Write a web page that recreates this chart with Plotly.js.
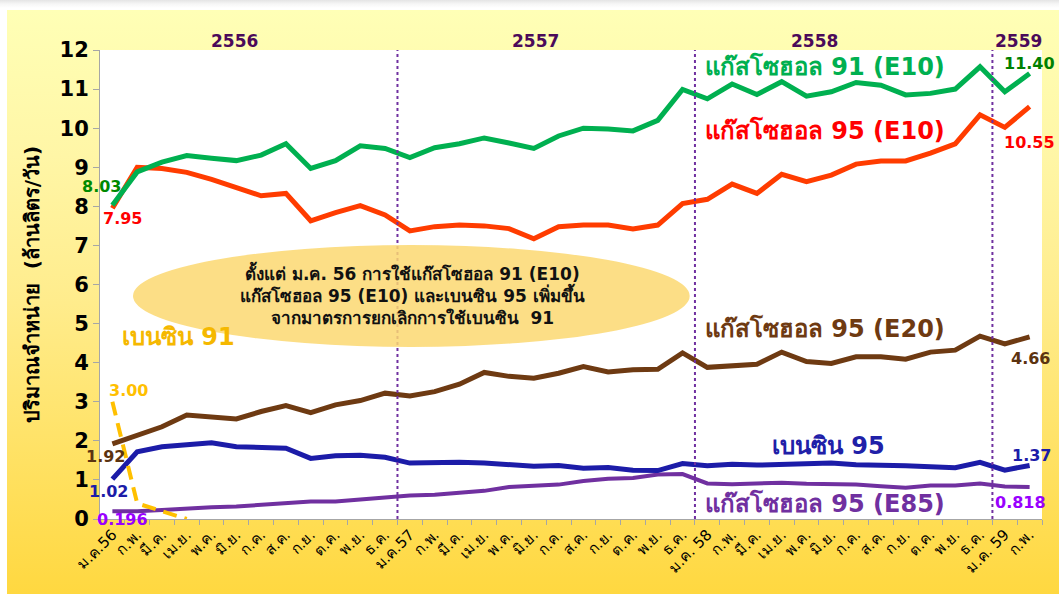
<!DOCTYPE html>
<html>
<head>
<meta charset="utf-8">
<script src="https://cdn.plot.ly/plotly-3.0.1.min.js"></script>
<style>
  html, body { margin:0; padding:0; background:#ffffff; }
  #wrap { position:relative; width:1059px; height:594px; overflow:hidden; }
  #topshade { position:absolute; left:0; top:0; width:1059px; height:8px;
    background:linear-gradient(to bottom, #e4e4e4 0%, #f6f6f6 50%, #ffffff 100%); }
  #bg { position:absolute; left:7px; top:10px; width:1052px; height:584px;
    background:linear-gradient(to bottom, #FFFFB6 0%, #FFF6A6 25%, #FFEC8C 50%, #FFE266 75%, #FFD840 100%); }
  #chart { position:absolute; left:0; top:0; width:1059px; height:594px; }
</style>
</head>
<body>
<div id="wrap">
  <div id="topshade"></div>
  <div id="bg"></div>
  <div id="chart"></div>
</div>
<script>
// Month tick labels (Jan 2013 .. Feb 2016, Thai Buddhist years)
const months = [
  "ม.ค.56","ก.พ.","มี.ค.","เม.ย.","พ.ค.","มิ.ย.","ก.ค.","ส.ค.","ก.ย.","ต.ค.","พ.ย.","ธ.ค.",
  "ม.ค.57","ก.พ.","มี.ค.","เม.ย.","พ.ค.","มิ.ย.","ก.ค.","ส.ค.","ก.ย.","ต.ค.","พ.ย.","ธ.ค.",
  "ม.ค. 58","ก.พ.","มี.ค.","เม.ย.","พ.ค.","มิ.ย.","ก.ค.","ส.ค.","ก.ย.","ต.ค.","พ.ย.","ธ.ค.",
  "ม.ค. 59","ก.พ."
];
const years = ["2556","2557","2558","2559"];

// Series values (million litres / day)
const gasohol91E10 = [8.03,8.88,9.13,9.30,9.23,9.17,9.31,9.60,8.97,9.17,9.55,9.48,
  9.25,9.50,9.60,9.75,9.62,9.48,9.80,10.00,9.98,9.93,10.20,10.99,
  10.75,11.13,10.86,11.19,10.82,10.93,11.17,11.10,10.85,10.89,11.00,11.57,
  10.93,11.40];
const gasohol95E10 = [7.95,9.00,8.97,8.87,8.69,8.48,8.27,8.33,7.63,7.84,8.02,7.78,
  7.37,7.48,7.52,7.50,7.43,7.17,7.48,7.52,7.52,7.42,7.52,8.07,
  8.18,8.57,8.33,8.82,8.63,8.80,9.08,9.16,9.16,9.36,9.60,10.34,
  10.02,10.55];
const gasohol95E20 = [1.92,2.13,2.36,2.66,2.62,2.56,2.75,2.90,2.72,2.92,3.03,3.22,
  3.15,3.26,3.45,3.75,3.65,3.60,3.73,3.90,3.76,3.82,3.83,4.25,
  3.88,3.92,3.96,4.27,4.03,3.98,4.15,4.15,4.09,4.27,4.32,4.68,
  4.48,4.66];
const benzine95 = [1.02,1.72,1.85,1.89,1.95,1.85,1.82,1.81,1.55,1.62,1.63,1.58,
  1.43,1.45,1.45,1.43,1.40,1.35,1.37,1.30,1.32,1.25,1.24,1.42,
  1.36,1.40,1.38,1.40,1.40,1.43,1.39,1.39,1.36,1.34,1.31,1.45,
  1.25,1.37];
const gasohol95E85 = [0.196,0.20,0.23,0.27,0.30,0.32,0.37,0.40,0.45,0.45,0.50,0.55,
  0.60,0.62,0.67,0.72,0.82,0.85,0.88,0.97,1.03,1.05,1.14,1.15,
  0.91,0.89,0.91,0.93,0.90,0.90,0.88,0.84,0.80,0.86,0.86,0.91,
  0.83,0.818];
const benzine91 = [3.00,0.40,0.20,0.00];

const seriesNames = ["แก๊สโซฮอล 91 (E10)","แก๊สโซฮอล 95 (E10)","แก๊สโซฮอล 95 (E20)","เบนซิน 95","แก๊สโซฮอล 95 (E85)","เบนซิน 91"];
const noteText = "ตั้งแต่ ม.ค. 56 การใช้แก๊สโซฮอล 91 (E10)<br>แก๊สโซฮอล 95 (E10) และเบนซิน 95 เพิ่มขึ้น<br>จากมาตรการยกเลิกการใช้เบนซิน  91";
const yTitle = "ปริมาณจำหน่าย  (ล้านลิตร/วัน)";

const FONT = 'Tahoma, "DejaVu Sans", "Noto Sans", sans-serif';
const idx = months.map((m, i) => i);
const last = months.length - 1;

function line(y, color, width, dash) {
  return {
    type: 'scatter', mode: 'lines', x: idx.slice(0, y.length), y: y,
    line: {color: color, width: width, dash: dash || 'solid'},
    hoverinfo: 'skip', showlegend: false
  };
}

const traces = [
  line(gasohol95E85, '#7030A0', 4),
  line(benzine95, '#1C1CA8', 5),
  line(gasohol95E20, '#6E3A12', 5),
  line(benzine91, '#FFC000', 4, '14px,8px'),
  line(gasohol95E10, '#FF3C00', 5),
  line(gasohol91E10, '#00B050', 5)
];

function valLabel(i, v, txt, color, xs, ys) {
  return {x: i, y: v, xref: 'x', yref: 'y', text: txt, showarrow: false,
    xshift: xs, yshift: ys, font: {family: FONT, size: 16, color: color, weight: 'bold'}};
}
function nameLabel(px, py, txt, color) {
  return {x: px, y: py, xref: 'paper', yref: 'paper', text: txt, showarrow: false,
    xanchor: 'left', yanchor: 'middle', font: {family: FONT, size: 24, color: color, weight: 'bold'}};
}
function yearLabel(px, txt) {
  return {x: px, y: 1.019, xref: 'paper', yref: 'paper', text: txt, showarrow: false,
    xanchor: 'center', yanchor: 'middle', font: {family: FONT, size: 17, color: '#4B0A5A', weight: 'bold'}};
}

const annotations = [
  valLabel(0, gasohol91E10[0], gasohol91E10[0].toFixed(2), '#008A00', -11, 19),
  valLabel(0, gasohol95E10[0], gasohol95E10[0].toFixed(2), '#FF0000', 10, -10),
  valLabel(0, gasohol95E20[0], gasohol95E20[0].toFixed(2), '#5C3310', -7, -13),
  valLabel(0, benzine95[0], benzine95[0].toFixed(2), '#1C1CA8', -4, -12),
  valLabel(0, gasohol95E85[0], String(gasohol95E85[0]), '#9900FF', 10, -8),
  valLabel(0, benzine91[0], benzine91[0].toFixed(2), '#FFC000', 16, 11),
  valLabel(last, gasohol91E10[last], gasohol91E10[last].toFixed(2), '#008000', 0, 10),
  valLabel(last, gasohol95E10[last], gasohol95E10[last].toFixed(2), '#FF0000', 0, -36),
  valLabel(last, gasohol95E20[last], gasohol95E20[last].toFixed(2), '#5C3310', 1, -22),
  valLabel(last, benzine95[last], benzine95[last].toFixed(2), '#1C1CA8', 2, 10),
  valLabel(last, gasohol95E85[last], String(gasohol95E85[last]), '#9900FF', -9, -15),
  nameLabel(0.640, 0.964, seriesNames[0], '#00B050'),
  nameLabel(0.640, 0.829, seriesNames[1], '#FF0000'),
  nameLabel(0.640, 0.407, seriesNames[2], '#6E3A12'),
  nameLabel(0.711, 0.156, seriesNames[3], '#2020A8'),
  nameLabel(0.640, 0.034, seriesNames[4], '#7030A0'),
  nameLabel(0.021, 0.388, seriesNames[5], '#F5B800'),
  yearLabel(0.143, years[0]),
  yearLabel(0.462, years[1]),
  yearLabel(0.759, years[2]),
  yearLabel(0.975, years[3]),
  {x: 0.332, y: 0.478, xref: 'paper', yref: 'paper', text: noteText, showarrow: false,
   xanchor: 'center', yanchor: 'middle', align: 'center',
   font: {family: FONT, size: 17, color: '#111111', weight: 'bold'}}
];

function vline(xv) {
  return {type: 'line', xref: 'x', yref: 'paper', x0: xv, x1: xv, y0: 0, y1: 1,
    line: {color: '#7030A0', width: 2, dash: 'dot'}, layer: 'above'};
}
const shapes = [
  vline(11.5), vline(23.5), vline(35.5),
  {type: 'circle', xref: 'paper', yref: 'paper', x0: 0.035, x1: 0.626, y0: 0.367, y1: 0.584,
   fillcolor: 'rgb(252,216,113)', opacity: 0.85, line: {width: 0}, layer: 'above'}
];

const layout = {
  width: 1059, height: 594,
  margin: {l: 100, r: 17, t: 50, b: 75, pad: 0},
  paper_bgcolor: 'rgba(0,0,0,0)', plot_bgcolor: '#ffffff',
  showlegend: false,
  font: {family: FONT},
  xaxis: {
    type: 'category', range: [-0.5, last + 0.5],
    tickmode: 'array', tickvals: idx, ticktext: months,
    tickson: 'boundaries', ticks: 'outside', ticklen: 5, tickcolor: '#A6A6A6',
    tickangle: -45, tickfont: {family: FONT, size: 15, color: '#000000'},
    showline: true, linecolor: '#A6A6A6', linewidth: 1,
    showgrid: false, zeroline: false, fixedrange: true
  },
  yaxis: {
    range: [0, 12], dtick: 1, tick0: 0,
    ticks: 'outside', ticklen: 6, tickcolor: '#A6A6A6',
    tickfont: {family: FONT, size: 21, color: '#000000', weight: 'bold'},
    showline: true, linecolor: '#A6A6A6', linewidth: 1,
    showgrid: false, zeroline: false, fixedrange: true,
    title: {text: yTitle, standoff: 14, font: {family: FONT, size: 20, color: '#000000', weight: 'bold'}}
  },
  annotations: annotations,
  shapes: shapes
};

Plotly.newPlot('chart', traces, layout, {displayModeBar: false, staticPlot: true});
</script>
</body>
</html>
